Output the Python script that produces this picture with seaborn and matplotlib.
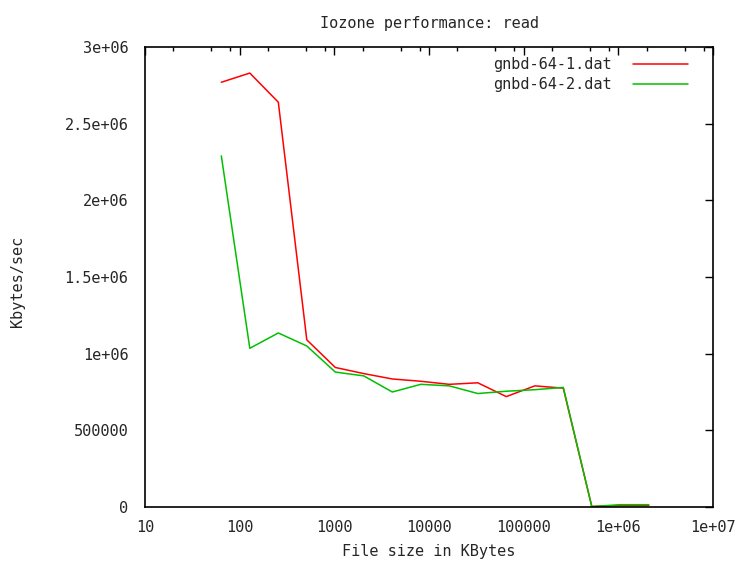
import numpy as np
import pandas as pd
import matplotlib
matplotlib.use("Agg")
import matplotlib.pyplot as plt
import matplotlib.ticker as mticker
import seaborn as sns

# ---------------------------
# Data
# ---------------------------
file_sizes = [64, 128, 256, 512, 1024, 2048, 4096, 8192, 16384, 32768,
              65536, 131072, 262144, 524288, 1048576, 2097152]
run1_kbps = [2770000, 2830000, 2640000, 1090000, 910000, 870000, 835000, 820000,
             800000, 810000, 720000, 790000, 775000, 3000, 10000, 10000]
run2_kbps = [2290000, 1035000, 1135000, 1050000, 880000, 855000, 750000, 800000,
             790000, 740000, 755000, 765000, 780000, 3000, 15000, 15000]
series_names = ["gnbd-64-1.dat", "gnbd-64-2.dat"]
series_colors = ["#ff0000", "#00c000"]

y_ticks = [0, 500000, 1000000, 1500000, 2000000, 2500000, 3000000]
y_tick_labels = ["0", "500000", "1e+06", "1.5e+06", "2e+06", "2.5e+06", "3e+06"]
x_ticks = [10, 100, 1000, 10000, 100000, 1000000, 10000000]
x_tick_labels = ["10", "100", "1000", "10000", "100000", "1e+06", "1e+07"]

df = pd.concat([
    pd.DataFrame({"size": file_sizes, "kbps": run1_kbps, "run": series_names[0]}),
    pd.DataFrame({"size": file_sizes, "kbps": run2_kbps, "run": series_names[1]}),
])

# ---------------------------
# Plot
# ---------------------------
sns.set_style("white")
plt.rcParams["font.family"] = ["DejaVu Sans Mono"]
fs = 11

fig = plt.figure(figsize=(7.46, 5.63), dpi=100)
ax = fig.add_axes([145 / 746, 1 - 507 / 563, 568 / 746, 460 / 563])

sns.lineplot(data=df, x="size", y="kbps", hue="run",
             palette=dict(zip(series_names, series_colors)),
             linewidth=1.1, ax=ax, legend=True)

ax.set_xscale("log")
ax.set_xlim(10, 1e7)
ax.set_ylim(0, 3e6)

ax.xaxis.set_major_locator(mticker.FixedLocator(x_ticks))
ax.xaxis.set_major_formatter(mticker.FixedFormatter(x_tick_labels))
ax.xaxis.set_minor_locator(mticker.LogLocator(base=10, subs=[2, 5, 8]))
ax.xaxis.set_minor_formatter(mticker.NullFormatter())
ax.yaxis.set_major_locator(mticker.FixedLocator(y_ticks))
ax.yaxis.set_major_formatter(mticker.FixedFormatter(y_tick_labels))

ax.tick_params(which="both", direction="in", top=True, right=True,
               labelsize=fs, color="black", width=1)
ax.tick_params(which="major", length=6)
ax.tick_params(axis="y", which="major", pad=12)
ax.tick_params(axis="x", which="major", pad=9)
ax.tick_params(which="minor", length=3)
for s in ax.spines.values():
    s.set_color("black")
    s.set_linewidth(1.2)

ax.set_title("Iozone performance: read", fontsize=fs, pad=14)
ax.set_xlabel("File size in KBytes", fontsize=fs, labelpad=7)
ax.set_ylabel("Kbytes/sec", fontsize=fs)
ax.yaxis.set_label_coords((25 - 145) / 568, 0.49)

leg = ax.legend(loc="upper right", frameon=False, markerfirst=False,
                fontsize=fs, handlelength=3.6, handletextpad=1.4,
                labelspacing=0.34, borderpad=0, borderaxespad=0,
                bbox_to_anchor=((688 - 145) / 568, (507 - 57) / 460))

fig.savefig("out.png", dpi=100)
